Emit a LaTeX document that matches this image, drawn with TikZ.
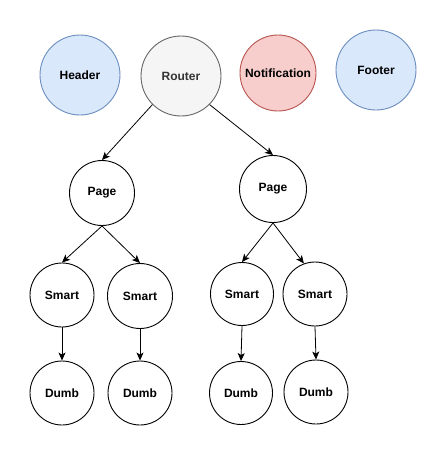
\documentclass[tikz,border=0pt]{standalone}
\usepackage{fontspec}
\setmainfont{Liberation Sans}
\usetikzlibrary{arrows.meta}
\definecolor{blueFill}{HTML}{DAE8FC}
\definecolor{blueLine}{HTML}{6C8EBF}
\definecolor{grayFill}{HTML}{F5F5F5}
\definecolor{grayLine}{HTML}{666666}
\definecolor{grayText}{HTML}{333333}
\definecolor{redFill}{HTML}{F8CECC}
\definecolor{redLine}{HTML}{B85450}
\begin{document}
\begin{tikzpicture}[x=1pt,y=-1pt,
  circ/.style={circle, draw, line width=0.9pt, inner sep=0pt, minimum size=#1,
    font=\fontsize{12}{14}\selectfont\bfseries, fill=white},
  bluec/.style={circ=80pt, fill=blueFill, draw=blueLine},
  arr/.style={line width=0.8pt, -{Stealth[length=8pt,width=7pt,inset=2pt]}}
]
\useasboundingbox (0,0) rectangle (447,456);
\node[bluec] (header) at (80,75) {Header};
\node[circ=80pt, fill=grayFill, draw=grayLine, text=grayText] (router) at (181,76) {Router};
\node[circ=76pt, fill=redFill, draw=redLine] (notif) at (278,73) {Notification};
\node[bluec] (footer) at (376,70) {Footer};

\node[circ=65pt] (pageL) at (102,193) {Page};
\node[circ=67pt] (pageR) at (273,189) {Page};

\node[circ=64pt] (s1) at (62,295) {Smart};
\node[circ=65pt] (s2) at (140,296) {Smart};
\node[circ=63pt] (s3) at (242,294) {Smart};
\node[circ=64pt] (s4) at (315,294) {Smart};

\node[circ=64pt] (d1) at (62,393) {Dumb};
\node[circ=64pt] (d2) at (140,393) {Dumb};
\node[circ=63pt] (d3) at (241,393) {Dumb};
\node[circ=64pt] (d4) at (316,392) {Dumb};

\draw[arr] (router.225) -- (pageL.north);
\draw[arr] (router.-45) -- (pageR.north);
\draw[arr] (pageL.south) -- (s1.north);
\draw[arr] (pageL.south) -- (s2.north);
\draw[arr] (pageR.south) -- (s3.north);
\draw[arr] (pageR.south) -- (s4.110);
\draw[arr] (s1.south) -- (d1.north);
\draw[arr] (s2.south) -- (d2.north);
\draw[arr] (s3.south) -- (d3.north);
\draw[arr] (s4.south) -- (d4.north);
\end{tikzpicture}
\end{document}
